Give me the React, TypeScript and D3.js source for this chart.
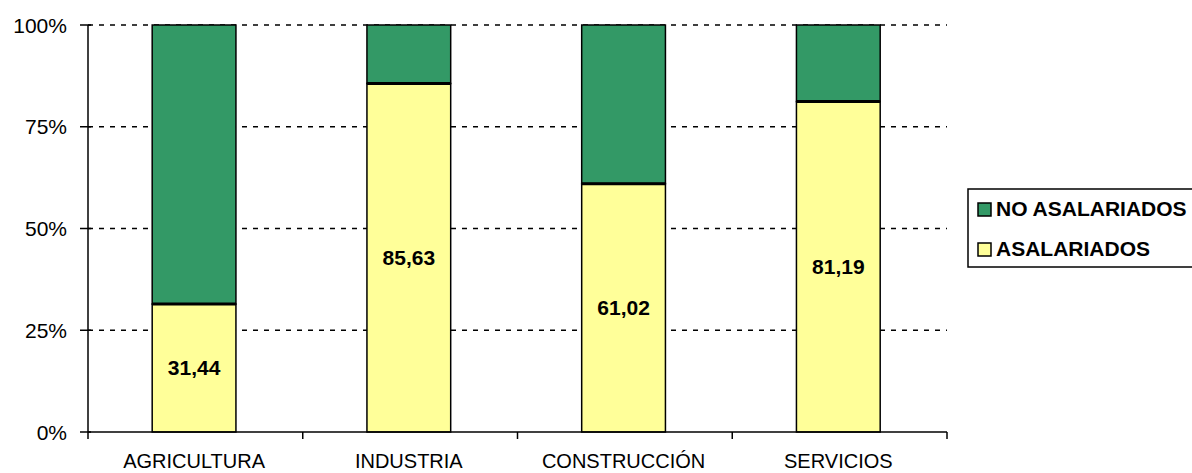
import React from "react";
import * as d3 from "d3";

const categories = ["AGRICULTURA", "INDUSTRIA", "CONSTRUCCIÓN", "SERVICIOS"];
const asalariados = [31.44, 85.63, 61.02, 81.19];
const noAsalariados = [68.56, 14.37, 38.98, 18.81];
const yTicks = [0, 25, 50, 75, 100];
const seriesNames = ["NO ASALARIADOS", "ASALARIADOS"];
const seriesColors = ["#339966", "#FFFF99"];

export default function App() {
  const W = 1192, H = 473;
  const left = 88, right = 947, top = 25, bottom = 432;
  const x = d3.scaleBand<string>().domain(categories).range([left, right]).paddingInner(0.61).paddingOuter(0.305).align(0.49);
  const y = d3.scaleLinear().domain([0, 100]).range([bottom, top]);
  const step = x.step();
  const boundaries = d3.range(categories.length + 1).map((i) => left + i * step);
  const fmt = (v: number) => v.toFixed(2).replace(".", ",");
  const font = "Arial, 'Liberation Sans', sans-serif";

  return (
    <svg width={W} height={H} style={{ position: "absolute", left: 0, top: 0, background: "#fff" }}>
      {/* gridlines */}
      {yTicks.filter((t) => t > 0).map((t) => (
        <line key={t} x1={left} x2={right} y1={y(t)} y2={y(t)} stroke="#000" strokeWidth={1.5} strokeDasharray="5,6" />
      ))}
      {/* bars */}
      {categories.map((c, i) => {
        const bx = x(c)!;
        const bw = x.bandwidth();
        const yA = y(asalariados[i]);
        const yTop = y(asalariados[i] + noAsalariados[i]);
        return (
          <g key={c}>
            <rect x={bx} y={yTop} width={bw} height={yA - yTop} fill={seriesColors[0]} stroke="#000" strokeWidth={1.5} />
            <rect x={bx} y={yA} width={bw} height={bottom - yA} fill={seriesColors[1]} stroke="#000" strokeWidth={1.5} />
            <line x1={bx} x2={bx + bw} y1={yA} y2={yA} stroke="#000" strokeWidth={3} />
            <text x={bx + bw / 2} y={(yA + bottom) / 2} dy="0.35em" textAnchor="middle" fontFamily={font} fontWeight="bold" fontSize={21} fill="#000">
              {fmt(asalariados[i])}
            </text>
          </g>
        );
      })}
      {/* y axis */}
      <line x1={left} x2={left} y1={top} y2={bottom} stroke="#000" strokeWidth={1.5} />
      {yTicks.map((t) => (
        <g key={t}>
          <line x1={left - 8} x2={left + 3} y1={y(t)} y2={y(t)} stroke="#000" strokeWidth={1.5} />
          <text x={67} y={y(t)} dy="0.36em" textAnchor="end" fontFamily={font} fontSize={21} fill="#000">{t}%</text>
        </g>
      ))}
      {/* x axis */}
      <line x1={left} x2={right} y1={bottom} y2={bottom} stroke="#000" strokeWidth={1.5} />
      {boundaries.map((b, i) => (
        <line key={i} x1={b} x2={b} y1={bottom} y2={bottom + 7} stroke="#000" strokeWidth={1.5} />
      ))}
      {categories.map((c) => (
        <text key={c} x={x(c)! + x.bandwidth() / 2} y={468} textAnchor="middle" fontFamily={font} fontSize={20} fill="#000">{c}</text>
      ))}
      {/* legend */}
      <rect x={968} y={189} width={240} height={78} fill="#fff" stroke="#000" strokeWidth={1.5} />
      {seriesNames.map((s, i) => (
        <g key={s}>
          <rect x={978} y={203 + i * 40} width={13} height={13} fill={seriesColors[i]} stroke="#000" strokeWidth={1.5} />
          <text x={996} y={216 + i * 40} fontFamily={font} fontWeight="bold" fontSize={21} fill="#000">{s}</text>
        </g>
      ))}
    </svg>
  );
}
